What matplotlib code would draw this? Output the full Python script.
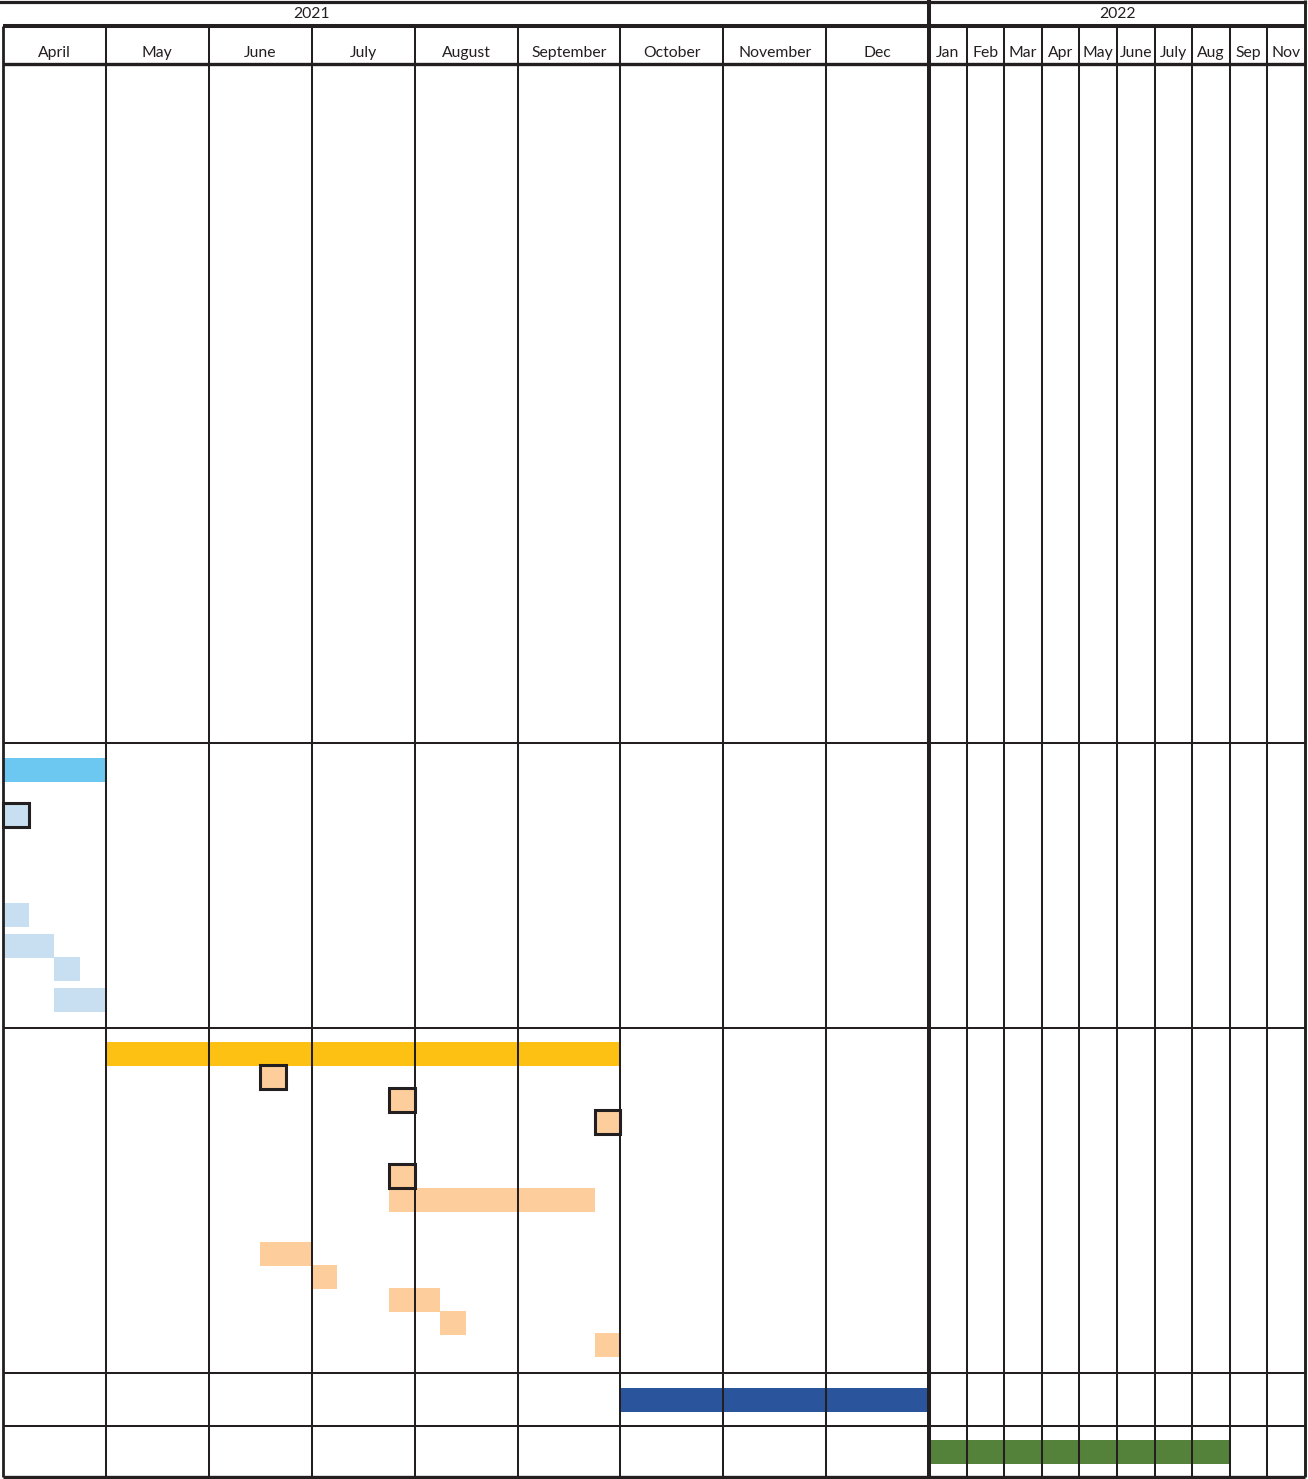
import numpy as np
import matplotlib
matplotlib.use('Agg')
from matplotlib import pyplot as plt

# timeline columns
months_2021 = ['April', 'May', 'June', 'July', 'August', 'September', 'October', 'November', 'Dec']
months_2022 = ['Jan', 'Feb', 'Mar', 'Apr', 'May', 'June', 'July', 'Aug', 'Sep', 'Nov']
years = ['2021', '2022']
year_spans = [(0, 6), (9, 19)]

# task bars: start / end in month columns, row, colour
bar_start = [0, 0, 0, 0.5, 0.5, 1, 3.75, 2.5, 3, 3.75, 4.25, 5.75, 6, 9]
bar_end = [1, 0.25, 0.5, 0.75, 1, 6, 5.75, 3, 3.25, 4.25, 4.5, 6, 9, 17]
bar_row = [770, 915, 946, 969, 1000, 1054, 1200, 1254, 1277, 1300, 1323, 1345, 1400, 1452]
bar_color = ['#6cc8f0', '#c7dff0', '#c7dff0', '#c7dff0', '#c7dff0',
             '#fcc113', '#fdcd9b', '#fdcd9b', '#fdcd9b', '#fdcd9b', '#fdcd9b', '#fdcd9b',
             '#2a559c', '#54823a']

# milestones (outlined boxes)
ms_start = [0, 2.5, 3.75, 5.75, 3.75]
ms_row = [815, 1077, 1100, 1122, 1176]
ms_color = ['#c7dff0', '#fdcd9b', '#fdcd9b', '#fdcd9b', '#fdcd9b']

# section separators
section_lines = [743, 1028, 1373, 1426]

W, H = 1308, 1479
ink = '#231f20'

# wide columns for 2021, narrow ones for 2022
col_w = [102.9] * len(months_2021) + [37.6] * len(months_2022)
col_edges = np.concatenate([[0], np.cumsum(col_w)])
col_idx = np.arange(len(col_edges), dtype=float)
ncol = len(col_w)

def fwd(x):
    return np.interp(x, col_idx, col_edges)

def inv(p):
    return np.interp(p, col_edges, col_idx)

fig = plt.figure(figsize=(W / 100, H / 100), dpi=100)
ax = fig.add_axes([3 / W, 0, col_edges[-1] / W, 1])
ax.set_xscale('function', functions=(fwd, inv))
ax.set_xlim(0, ncol)
ax.set_ylim(H, 0)
ax.axis('off')

start = np.array(bar_start)
end = np.array(bar_end)
ax.barh(bar_row, end - start, left=start, height=23.5, color=bar_color, zorder=1)

# grid
thin = 1.45
ax.vlines([c for c in range(1, ncol) if c != 9], 26, 1477, color=ink, lw=thin, zorder=2)
ax.vlines(0, 26, 1477, color=ink, lw=2.0, zorder=2, clip_on=False)
ax.vlines(9, 0, 1477, color=ink, lw=2.9, zorder=2, clip_on=False)
ax.vlines(ncol, 0, 1477, color=ink, lw=2.1, zorder=2, clip_on=False)
ax.hlines(section_lines, 0, ncol, color=ink, lw=thin, zorder=2, clip_on=False)
ax.hlines([26], 0, ncol, color=ink, lw=2.9, zorder=2, clip_on=False)
ax.hlines([64, 1477], 0, ncol, color=ink, lw=2.4, zorder=2, clip_on=False)
ax.plot([-3 / col_edges[-1], 1], [1.5, 1.5], color=ink, lw=2.3,
        transform=ax.get_yaxis_transform(), clip_on=False, zorder=2)

ms = np.array(ms_start)
ax.barh(ms_row, np.full(len(ms), 0.25), left=ms, height=24, color=ms_color,
        edgecolor=ink, linewidth=2.2, zorder=3, clip_on=False)

# header text
font = dict(family=['Lato', 'DejaVu Sans'], fontsize=11.3, color=ink)
for i, m in enumerate(months_2021 + months_2022):
    ax.text(i + 0.5, 57, m, ha='center', va='baseline', **font)
for yr, (a, b) in zip(years, year_spans):
    ax.text(inv((fwd(a) + fwd(b)) / 2), 18.5, yr, ha='center', va='baseline', **font)

fig.savefig('out.png', dpi=100)
